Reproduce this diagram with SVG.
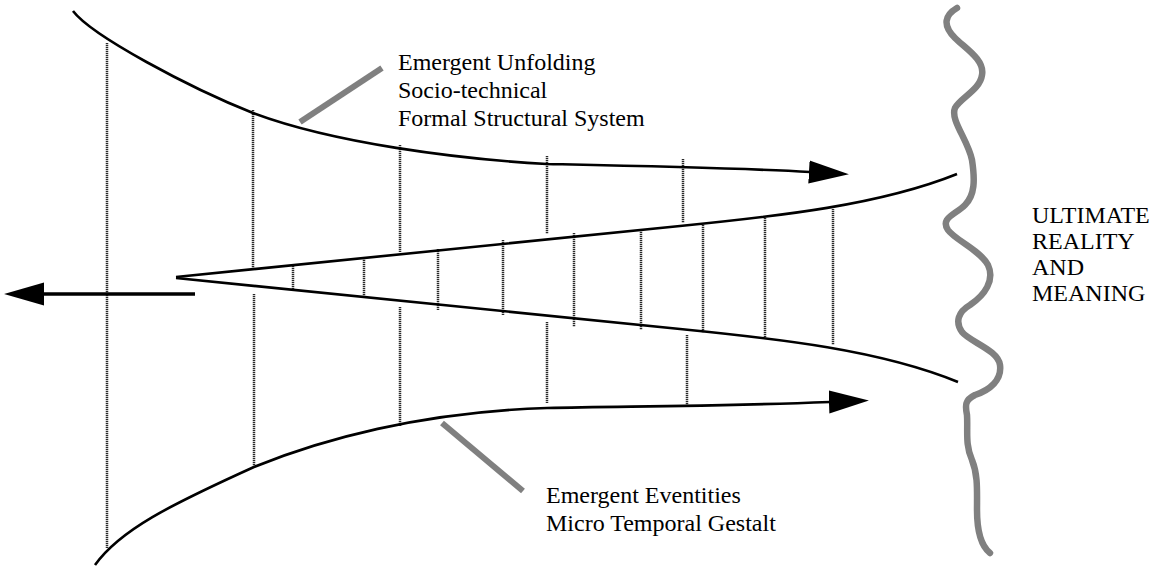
<svg xmlns="http://www.w3.org/2000/svg" width="1156" height="568" viewBox="0 0 1156 568">
<style>
.curve{fill:none;stroke:#000;stroke-width:2.6}
.arrow{fill:none;stroke:#000;stroke-width:3.4}
.tick{fill:none;stroke:#2a2a2a;stroke-width:2.5;stroke-dasharray:1.2 0.8}
.lead{fill:none;stroke:#808080;stroke-width:6}
.wave{fill:none;stroke:#808080;stroke-width:6.5;stroke-linecap:round;stroke-linejoin:round}
text{font-family:'Liberation Serif','Times New Roman',Times,serif;fill:#000}
.lbl{font-size:24px}
.lbl2{font-size:24px}
</style>
<defs>
<marker id="head" markerUnits="userSpaceOnUse" markerWidth="40" markerHeight="24" viewBox="0 0 38 22" refX="1" refY="11" orient="auto">
<path d="M0,0 L38,11 L0,22 Z" fill="#000"/>
</marker>
</defs>
<rect width="1156" height="568" fill="#fff"/>
<g id="ticks">
<line class="tick" x1="107" y1="43" x2="107" y2="548"/>
<line class="tick" x1="253" y1="110" x2="253" y2="268"/>
<line class="tick" x1="254" y1="294" x2="254" y2="467"/>
<line class="tick" x1="293" y1="264" x2="293" y2="289"/>
<line class="tick" x1="364" y1="258" x2="364" y2="297"/>
<line class="tick" x1="400" y1="145" x2="400" y2="252"/>
<line class="tick" x1="400" y1="307" x2="400" y2="426"/>
<line class="tick" x1="438" y1="249" x2="438" y2="310"/>
<line class="tick" x1="503" y1="240" x2="503" y2="315"/>
<line class="tick" x1="547" y1="156" x2="547" y2="234"/>
<line class="tick" x1="547" y1="322" x2="547" y2="403"/>
<line class="tick" x1="574" y1="233" x2="574" y2="327"/>
<line class="tick" x1="641" y1="230" x2="641" y2="330"/>
<line class="tick" x1="683" y1="159" x2="683" y2="223"/>
<line class="tick" x1="687" y1="335" x2="687" y2="407"/>
<line class="tick" x1="703" y1="223" x2="703" y2="333"/>
<line class="tick" x1="765" y1="218" x2="765" y2="338"/>
<line class="tick" x1="833" y1="209" x2="833" y2="345"/>
</g>
<g id="connectors">
<path id="top-flow" class="curve" d="M73,11 C92,36 190,88 253,113 C333,143 457,159 547,164 C640,166 740,168 810,172" marker-end="url(#head)"/>
<path id="bottom-flow" class="curve" d="M95,565 C120,530 170,505 254,467 C320,440 420,412 547,408 C620,406 700,407 830,402" marker-end="url(#head)"/>
<path id="wedge-upper" class="curve" d="M176,277 L680,226 C780,216 880,205 957,174"/>
<path id="wedge-lower" class="curve" d="M176,278 L680,329 C780,339 880,350 958,382"/>
<path id="back-arrow" class="arrow" d="M195,294 L43,294" marker-end="url(#head)"/>
<line id="leader-top" class="lead" x1="300" y1="122" x2="382" y2="68"/>
<line id="leader-bottom" class="lead" x1="442" y1="423" x2="523" y2="491"/>
</g>
<g id="ultimate-boundary">
<path class="wave" d="M957,8 C945,15 942,25 955,38 C965,48 985,60 982,75 C980,90 960,98 955,108 C950,120 968,140 972,160 C975,180 975,195 965,205 C955,215 940,218 948,230 C955,240 980,250 988,265 C995,280 985,295 970,305 C958,312 955,322 962,332 C970,342 998,350 1000,365 C1002,380 990,390 975,395 C965,400 965,405 967,415 C968,430 965,445 972,460 C978,475 977,490 977,510 C977,530 980,545 990,553"/>
</g>
<g id="label-unfolding">
<text class="lbl" x="398" y="70">Emergent Unfolding</text>
<text class="lbl" x="398" y="98">Socio-technical</text>
<text class="lbl" x="398" y="126">Formal Structural System</text>
</g>
<g id="label-eventities">
<text class="lbl" x="546" y="503">Emergent Eventities</text>
<text class="lbl" x="546" y="531">Micro Temporal Gestalt</text>
</g>
<g id="label-ultimate">
<text class="lbl2" x="1032" y="223">ULTIMATE</text>
<text class="lbl2" x="1032" y="249">REALITY</text>
<text class="lbl2" x="1032" y="275">AND</text>
<text class="lbl2" x="1032" y="301">MEANING</text>
</g>
</svg>
